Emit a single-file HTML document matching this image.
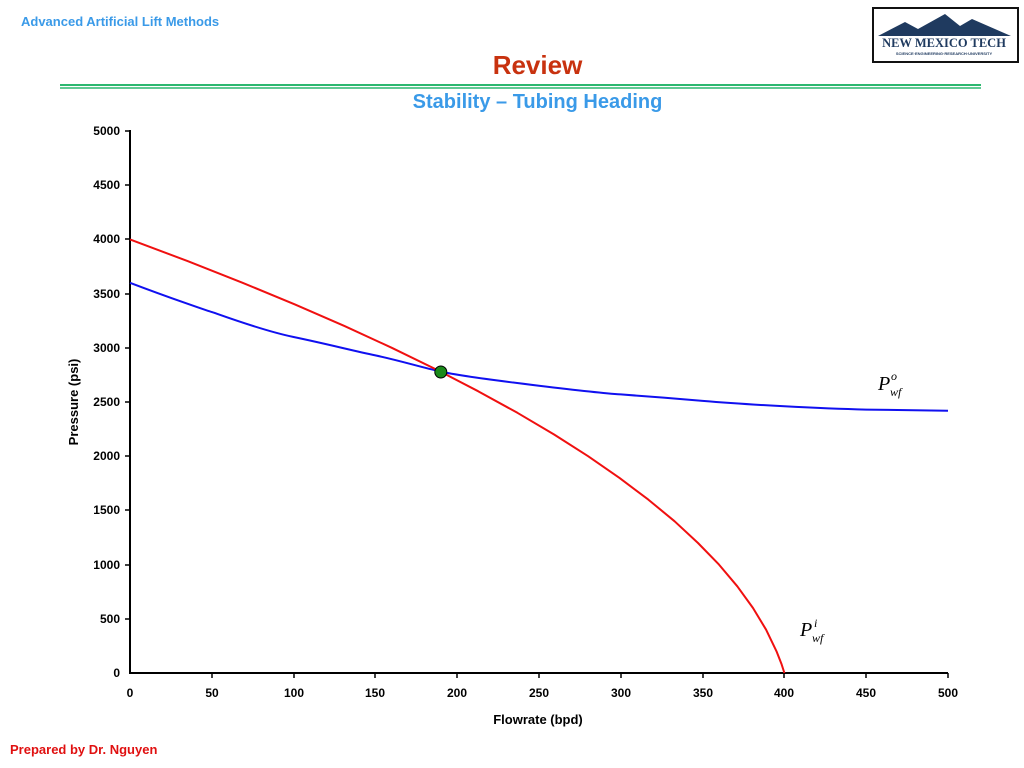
<!DOCTYPE html><html><head><style>body{margin:0;width:1024px;height:768px;background:#fff;font-family:"Liberation Sans",sans-serif;position:relative;overflow:hidden}</style></head><body>
<div style="position:absolute;left:21px;top:14px;font-size:13px;font-weight:bold;color:#3a9ae8">Advanced Artificial Lift Methods</div>
<div style="position:absolute;left:0;width:1075px;top:50px;text-align:center;font-size:26px;font-weight:bold;color:#c8320f">Review</div>
<div style="position:absolute;left:0;width:1075px;top:91px;text-align:center;font-size:20px;font-weight:bold;color:#3a9ae8">Stability – Tubing Heading</div>
<div style="position:absolute;left:10px;top:742px;font-size:13px;font-weight:bold;color:#e01010">Prepared by Dr. Nguyen</div>
<div style="position:absolute;left:872px;top:7px;width:143px;height:52px;border:2px solid #111;background:#fff"></div>
<svg width="1024" height="768" style="position:absolute;left:0;top:0" font-family="Liberation Sans, sans-serif">
<polygon points="878,36 905,22 918,29 945,14 960,26 972,19 1011,36" fill="#1f3a5f"/>
<text x="944" y="47" font-family="Liberation Serif,serif" font-weight="bold" font-size="12.5" text-anchor="middle" fill="#1f3a5f">NEW MEXICO TECH</text>
<text x="944" y="55" font-size="4" font-weight="bold" text-anchor="middle" fill="#1f3a5f">SCIENCE·ENGINEERING·RESEARCH·UNIVERSITY</text>
<line x1="60" y1="85" x2="981" y2="85" stroke="#2db870" stroke-width="2"/>
<line x1="60" y1="88" x2="981" y2="88" stroke="#2db870" stroke-width="1.5"/>
<g stroke="#000" stroke-width="2" fill="none"><line x1="130" y1="130" x2="130" y2="674"/><line x1="129" y1="673" x2="948" y2="673"/></g>
<g stroke="#000" stroke-width="1.5">
<line x1="125" y1="131" x2="130" y2="131"/><line x1="125" y1="185" x2="130" y2="185"/><line x1="125" y1="239" x2="130" y2="239"/><line x1="125" y1="294" x2="130" y2="294"/><line x1="125" y1="348" x2="130" y2="348"/><line x1="125" y1="402" x2="130" y2="402"/><line x1="125" y1="456" x2="130" y2="456"/><line x1="125" y1="510" x2="130" y2="510"/><line x1="125" y1="565" x2="130" y2="565"/><line x1="125" y1="619" x2="130" y2="619"/>
<line x1="212" y1="673" x2="212" y2="678"/><line x1="294" y1="673" x2="294" y2="678"/><line x1="375" y1="673" x2="375" y2="678"/><line x1="457" y1="673" x2="457" y2="678"/><line x1="539" y1="673" x2="539" y2="678"/><line x1="621" y1="673" x2="621" y2="678"/><line x1="703" y1="673" x2="703" y2="678"/><line x1="784" y1="673" x2="784" y2="678"/><line x1="866" y1="673" x2="866" y2="678"/><line x1="948" y1="673" x2="948" y2="678"/></g>
<g font-size="12" font-weight="bold" text-anchor="end">
<text x="120" y="135">5000</text><text x="120" y="189">4500</text><text x="120" y="243">4000</text><text x="120" y="298">3500</text><text x="120" y="352">3000</text><text x="120" y="406">2500</text><text x="120" y="460">2000</text><text x="120" y="514">1500</text><text x="120" y="569">1000</text><text x="120" y="623">500</text><text x="120" y="677">0</text></g>
<g font-size="12" font-weight="bold" text-anchor="middle">
<text x="130" y="697">0</text><text x="212" y="697">50</text><text x="294" y="697">100</text><text x="375" y="697">150</text><text x="457" y="697">200</text><text x="539" y="697">250</text><text x="621" y="697">300</text><text x="703" y="697">350</text><text x="784" y="697">400</text><text x="866" y="697">450</text><text x="948" y="697">500</text>
<text x="538" y="724" font-size="13">Flowrate (bpd)</text>
<text transform="translate(78,402) rotate(-90)" font-size="13">Pressure (psi)</text></g>
<path d="M130,282.8 C170,298 211,312 211.8,312 S260,330 293.6,337 S350,350 375.4,355.4 S420,367 440.8,371.6 S500,381 539,385.7 S600,393 620.8,394.4 S680,399 702.6,400.9 S760,405 784.4,406.3 S840,409 866.2,409.6 S920,410.5 948,410.7" fill="none" stroke="#1010f0" stroke-width="2"/>
<polyline points="130,239.4 187.6,261.1 242.6,282.8 294.9,304.4 344.6,326.1 391.8,347.8 436.3,369.5 478.1,391.2 517.4,412.8 554.1,434.5 588.1,456.2 619.5,477.9 648.3,499.6 674.5,521.2 698,543 719,564.6 737.3,586.3 753,608 766.1,629.7 776.5,651.3 781.6,664.3 784.4,673" fill="none" stroke="#f01010" stroke-width="2" stroke-linejoin="round"/>
<circle cx="440.8" cy="372" r="6" fill="#1a8a1a" stroke="#000" stroke-width="1"/>
<text x="878" y="390" font-family="Liberation Serif,serif" font-style="italic" font-size="20">P</text><text x="891" y="380" font-family="Liberation Serif,serif" font-style="italic" font-size="12">o</text><text x="890" y="396" font-family="Liberation Serif,serif" font-style="italic" font-size="12">wf</text>
<text x="800" y="636" font-family="Liberation Serif,serif" font-style="italic" font-size="20">P</text><text x="814" y="627" font-family="Liberation Serif,serif" font-style="italic" font-size="12">i</text><text x="812" y="642" font-family="Liberation Serif,serif" font-style="italic" font-size="12">wf</text>
</svg></body></html>
